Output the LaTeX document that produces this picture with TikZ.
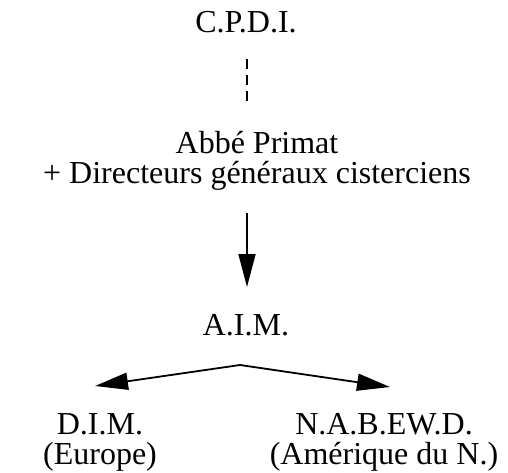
\documentclass[tikz,border=0pt]{standalone}
\usepackage{fontspec}
\setmainfont{Liberation Serif}
\usetikzlibrary{arrows.meta}
\begin{document}
\begin{tikzpicture}[x=1pt,y=-1pt,
  lbl/.style={font=\fontsize{32}{30}\selectfont, inner sep=0pt, align=center},
  conn/.style={line width=1.8pt},
  arr/.style={conn, -{Triangle[length=33pt,width=17pt]}},
  dsh/.style={line width=1.5pt, dash pattern=on 10pt off 6pt}]
\fill[white] (0,0) rectangle (508,473);
\useasboundingbox (0,0) rectangle (508,473);
\node[lbl, anchor=base] (cpdi) at (246,33) {C.P.D.I.};
\node[lbl, anchor=base] (abbe) at (257,183) {Abbé Primat\\+ Directeurs généraux cisterciens};
\node[lbl, anchor=base] (aim) at (246,335) {A.I.M.};
\node[lbl, anchor=base] (dim) at (100,464) {D.I.M.\\(Europe)};
\node[lbl, anchor=base] (nab) at (384,464) {N.A.B.EW.D.\\(Amérique du N.)};
\coordinate (d1) at (247,59);
\coordinate (d2) at (247,104);
\coordinate (v1) at (247,213);
\coordinate (v2) at (247,287);
\coordinate (apex) at (240,365);
\coordinate (ltip) at (95,386);
\coordinate (rtip) at (390,387);
\draw[dsh] (d1) -- (d2);
\draw[arr] (v1) -- (v2);
\draw[arr] (apex) -- (ltip);
\draw[arr] (apex) -- (rtip);
\end{tikzpicture}
\end{document}
